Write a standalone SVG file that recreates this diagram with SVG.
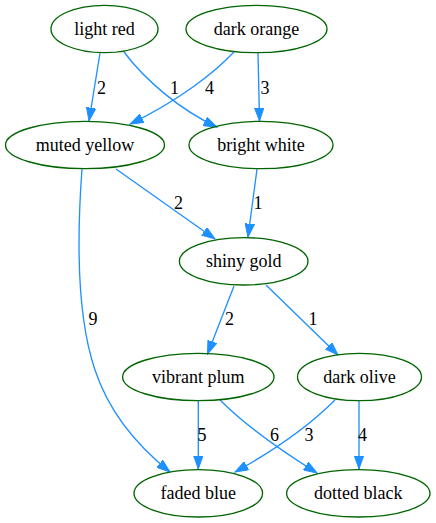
<svg xmlns="http://www.w3.org/2000/svg" width="436" height="523" viewBox="0 0 436 523">
<style>
.node ellipse{fill:none;stroke:#006400;stroke-width:1.33}
.node text,.lbl{font-family:"Liberation Serif","Times New Roman",serif;font-size:18px;fill:#000}
.node text{text-anchor:middle}
.lbl{text-anchor:middle}
.edge{fill:none;stroke:#1e90ff;stroke-width:1.33;marker-end:url(#ah)}
</style>
<defs>
<marker id="ah" markerUnits="userSpaceOnUse" markerWidth="14" markerHeight="10" viewBox="0 -5 14 10" refX="13.3" refY="0" orient="auto">
<path d="M0,-4.7 L13.3,0 L0,4.7 z" fill="#1e90ff" stroke="#1e90ff" stroke-width="1"/>
</marker>
</defs>
<rect width="436" height="523" fill="#fff"/>
<g id="edges">
<path class="edge" d="M100,53 L89,121"/>
<path class="edge" d="M124,52 C145,80 180,110 217,127"/>
<path class="edge" d="M234,52 C215,72 180,100 130,124"/>
<path class="edge" d="M258,53 L259.5,121"/>
<path class="edge" d="M116,169 L215,239"/>
<path class="edge" d="M257,169 L248,237"/>
<path class="edge" d="M82,169 C76,250 78,320 95,370 C110,415 140,448 170,472"/>
<path class="edge" d="M234,286 L207.5,354"/>
<path class="edge" d="M266,285 L338,355"/>
<path class="edge" d="M198.3,401 L198.3,469"/>
<path class="edge" d="M220,400 C245,425 280,450 317,473"/>
<path class="edge" d="M335,400 C310,425 275,450 235,472"/>
<path class="edge" d="M359,401 L359,469"/>
<text class="lbl" x="101.5" y="94">2</text>
<text class="lbl" x="174.5" y="94">1</text>
<text class="lbl" x="209.5" y="94">4</text>
<text class="lbl" x="265" y="94">3</text>
<text class="lbl" x="178.5" y="209">2</text>
<text class="lbl" x="258" y="209">1</text>
<text class="lbl" x="93" y="325">9</text>
<text class="lbl" x="229.5" y="325">2</text>
<text class="lbl" x="313" y="325">1</text>
<text class="lbl" x="202" y="441">5</text>
<text class="lbl" x="274.5" y="441">6</text>
<text class="lbl" x="309" y="441">3</text>
<text class="lbl" x="362.5" y="441">4</text>
</g>
<g id="light_red" class="node"><ellipse cx="104.5" cy="29" rx="53.5" ry="23.7"/><text x="104.5" y="34.6">light red</text></g>
<g id="dark_orange" class="node"><ellipse cx="256.5" cy="29" rx="70.5" ry="23.7"/><text x="256.5" y="34.6">dark orange</text></g>
<g id="muted_yellow" class="node"><ellipse cx="85" cy="145" rx="79.5" ry="23.7"/><text x="85" y="150.6">muted yellow</text></g>
<g id="bright_white" class="node"><ellipse cx="261" cy="145" rx="72" ry="23.7"/><text x="261" y="150.6">bright white</text></g>
<g id="shiny_gold" class="node"><ellipse cx="243.7" cy="261.3" rx="64.3" ry="23.7"/><text x="243.7" y="266.9">shiny gold</text></g>
<g id="vibrant_plum" class="node"><ellipse cx="198.3" cy="377" rx="75.7" ry="23.7"/><text x="198.3" y="382.6">vibrant plum</text></g>
<g id="dark_olive" class="node"><ellipse cx="359.5" cy="377" rx="62" ry="23.7"/><text x="359.5" y="382.6">dark olive</text></g>
<g id="faded_blue" class="node"><ellipse cx="198.3" cy="493.3" rx="64.3" ry="23.7"/><text x="198.3" y="498.9">faded blue</text></g>
<g id="dotted_black" class="node"><ellipse cx="358.3" cy="493.3" rx="71.7" ry="23.7"/><text x="358.3" y="498.9">dotted black</text></g>
</svg>
